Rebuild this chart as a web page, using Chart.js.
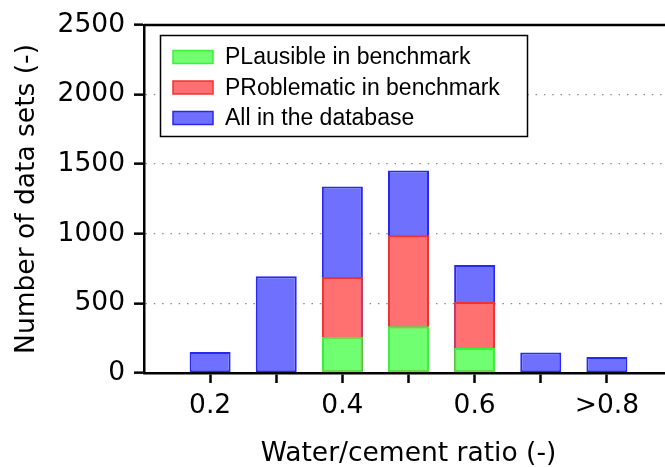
<!DOCTYPE html>
<html>
<head>
<meta charset="utf-8">
<script src="https://cdn.jsdelivr.net/npm/chart.js@4"></script>
<style>
  html, body { margin: 0; padding: 0; background: #fff; overflow: hidden; }
  #wrap { width: 665px; height: 467px; overflow: hidden; }
</style>
</head>
<body>
<div id="wrap"><canvas id="chart" width="680" height="467"></canvas></div>
<script>
// Water/cement ratio bins
const categories = ['0.2', '0.3', '0.4', '0.5', '0.6', '0.7', '>0.8'];
const xTickLabels = ['0.2', '0.4', '0.6', '>0.8'];
const yTicks = [0, 500, 1000, 1500, 2000, 2500];

// Number of data sets per bin
const plausible = [null, null, 260, 335, 180, null, null];
const problematic = [null, null, 690, 990, 510, null, null];
const allData = [150, 695, 1340, 1455, 775, 148, 115];

const seriesNames = ['PLausible in benchmark', 'PRoblematic in benchmark', 'All in the database'];
const fills = ['rgb(112,255,112)', 'rgb(255,112,112)', 'rgb(112,112,255)'];
const edges = ['rgb(60,240,60)', 'rgb(240,50,50)', 'rgb(40,40,240)'];

// empty slot on each side so the axis runs from 0.1 to 0.9
const labels = [''].concat(categories, ['']);
const pad = arr => [null].concat(arr, [null]);

Chart.defaults.font.family = 'DejaVu Sans';
Chart.defaults.color = '#000';

// legend box drawn inside the plot, over the grid
const boxLegend = {
  id: 'boxLegend',
  afterDraw(chart) {
    const ctx = chart.ctx;
    ctx.save();
    ctx.fillStyle = '#fff';
    ctx.fillRect(160.5, 35.5, 367, 101);
    ctx.strokeStyle = '#000';
    ctx.lineWidth = 1.5;
    ctx.strokeRect(160.5, 35.5, 367, 101);
    ctx.font = '23px "Liberation Sans", Arial, sans-serif';
    ctx.textBaseline = 'middle';
    seriesNames.forEach((name, i) => {
      const y = 57 + i * 30.5;
      ctx.fillStyle = fills[i];
      ctx.fillRect(173, y - 6.5, 40, 13);
      ctx.strokeStyle = edges[i];
      ctx.lineWidth = 1.5;
      ctx.strokeRect(173, y - 6.5, 40, 13);
      ctx.fillStyle = '#000';
      ctx.fillText(name, 225, y + 1);
    });
    ctx.restore();
  }
};

// top and right frame lines
const frame = {
  id: 'frame',
  afterDatasetsDraw(chart) {
    const a = chart.chartArea;
    const ctx = chart.ctx;
    ctx.save();
    ctx.strokeStyle = '#000';
    ctx.lineWidth = 2.5;
    ctx.beginPath();
    ctx.moveTo(a.left, a.top);
    ctx.lineTo(a.right, a.top);
    ctx.lineTo(a.right, a.bottom);
    ctx.stroke();
    ctx.restore();
  }
};

const data = [plausible, problematic, allData];

new Chart(document.getElementById('chart'), {
  type: 'bar',
  data: {
    labels: labels,
    datasets: data.map((d, i) => ({
      label: seriesNames[i],
      data: pad(d),
      backgroundColor: fills[i],
      borderColor: edges[i],
      borderWidth: 2,
      borderSkipped: false,
      barPercentage: 0.62,
      categoryPercentage: 1
    }))
  },
  options: {
    responsive: false,
    animation: false,
    devicePixelRatio: 1,
    layout: { padding: { top: 24, right: 6, left: 0, bottom: 0 } },
    plugins: { legend: { display: false }, tooltip: { enabled: false } },
    scales: {
      x: {
        stacked: true,
        offset: false,
        z: 1,
        grid: {
          offset: false,
          drawOnChartArea: false,
          tickLength: 10,
          tickWidth: 2.5,
          tickColor: ctx => (ctx.index === 0 || ctx.index === labels.length - 1) ? 'rgba(0,0,0,0)' : '#000'
        },
        border: { color: '#000', width: 2.5 },
        ticks: {
          autoSkip: false,
          maxRotation: 0,
          padding: 7,
          font: { size: 26.5 },
          callback: function (v, i) {
            const l = labels[i];
            return xTickLabels.includes(l) ? l : '';
          }
        },
        title: {
          display: true,
          text: 'Water/cement ratio (-)',
          font: { size: 26.5, lineHeight: 1 },
          padding: 0
        },
        afterFit: s => { s.height = 94; }
      },
      y: {
        stacked: false,
        min: 0,
        max: 2500,
        z: 1,
        afterBuildTicks: s => { s.ticks = yTicks.map(v => ({ value: v })); },
        grid: {
          color: ctx => (ctx.tick && (ctx.tick.value === 0 || ctx.tick.value === 2500)) ? 'rgba(0,0,0,0)' : '#8a8a8a',
          lineWidth: 1.3,
          tickLength: 10,
          tickWidth: 2.5,
          tickColor: '#000',
          tickBorderDash: []
        },
        border: { color: '#000', width: 2.5, dash: [1.5, 6.8] },
        ticks: {
          padding: 9,
          font: { size: 26.5 },
          callback: v => String(v)
        },
        title: {
          display: true,
          text: 'Number of data sets (-)',
          font: { size: 26.5, lineHeight: 1 },
          padding: { top: 14, bottom: 0 }
        },
        afterFit: s => { s.width = 144; }
      }
    }
  },
  plugins: [frame, boxLegend]
});
</script>
</body>
</html>
